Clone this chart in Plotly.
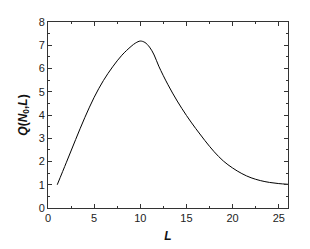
import plotly.graph_objects as go

L_vals = [1, 2, 3, 4, 5, 6, 7, 8, 9, 9.5, 10, 10.5, 11, 11.5, 12, 13, 14, 15, 16, 17,
          18, 19, 20, 21, 22, 23, 24, 25, 26]
Q_vals = [1.00, 1.97, 2.95, 3.90, 4.76, 5.48, 6.07, 6.57, 6.95, 7.10, 7.18, 7.12, 6.92, 6.58, 6.10,
          5.30, 4.60, 3.98, 3.42, 2.90, 2.42, 2.02, 1.72, 1.48, 1.30, 1.18, 1.10, 1.05, 1.02]

x_ticks = [0, 5, 10, 15, 20, 25]
y_ticks = [0, 1, 2, 3, 4, 5, 6, 7, 8]

fig = go.Figure()
fig.add_trace(go.Scatter(x=L_vals, y=Q_vals, mode="lines",
                         line=dict(color="black", width=1, shape="spline", smoothing=1.0),
                         showlegend=False))

axis_common = dict(showgrid=False, zeroline=False, showline=True, linecolor="#333",
                   linewidth=1, mirror="allticks", ticks="inside", ticklen=4,
                   tickcolor="#333", tickfont=dict(family="Liberation Sans, Arial", size=11, color="#222"))

fig.update_xaxes(range=[0, 26], tickvals=x_ticks,
                 minor=dict(dtick=2.5, tick0=0, ticks="inside", ticklen=2, tickcolor="#333"),
                 title=dict(text="<b><i>L</i></b>", font=dict(family="Liberation Sans, Arial", size=12, color="#111"),
                            standoff=8),
                 **axis_common)
fig.update_yaxes(range=[0, 8], tickvals=y_ticks,
                 minor=dict(dtick=0.5, tick0=0, ticks="inside", ticklen=2, tickcolor="#333"),
                 title=dict(text="<b><i>Q</i>(<i>N</i><sub>0</sub>,<i>L</i>)</b>",
                            font=dict(family="Liberation Sans, Arial", size=12, color="#111"),
                            standoff=8),
                 **axis_common)

fig.update_layout(width=302, height=241, margin=dict(l=40, r=22, t=8, b=38),
                  paper_bgcolor="white", plot_bgcolor="white")

fig.write_html("out.html")
